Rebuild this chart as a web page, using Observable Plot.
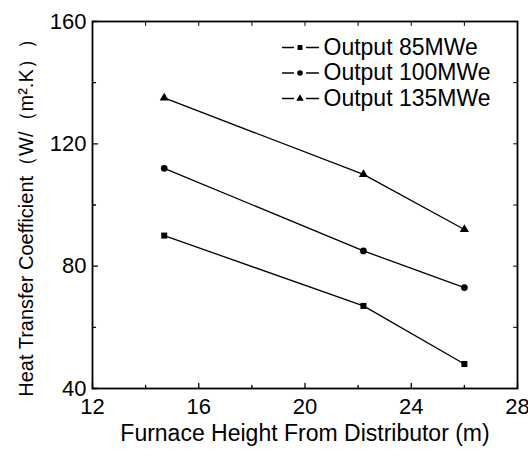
<!DOCTYPE html>
<html>
<head>
<meta charset="utf-8">
<script src="https://cdn.jsdelivr.net/npm/d3@7"></script>
<script src="https://cdn.jsdelivr.net/npm/@observablehq/plot@0.6"></script>
<style>
  html, body { margin: 0; padding: 0; background: #fff; }
  svg { display: block; }
</style>
</head>
<body>
<div id="chart"></div>
<script>
// ---- data ----
const heights = [14.7, 22.2, 26.0];
const seriesNames = ["Output 85MWe", "Output 100MWe", "Output 135MWe"];
const output85 = [90, 67, 48];
const output100 = [112, 85, 73];
const output135 = [135, 110, 92];
const seriesSymbols = ["square", "circle", "triangle"];
const xMajorTicks = [12, 16, 20, 24, 28];
const xMinorTicks = [14, 18, 22, 26];
const yMajorTicks = [40, 80, 120, 160];
const yMinorTicks = [60, 100, 140];
const xLabel = "Furnace Height From Distributor (m)";
const yLabel = "Heat Transfer Coefficient（W/（m².K））";

const seriesValues = [output85, output100, output135];
const rows = [];
seriesNames.forEach((name, s) => {
  heights.forEach((h, i) => rows.push({series: name, x: h, y: seriesValues[s][i]}));
});

const font = "Liberation Sans, Arial, sans-serif";
const lineShape = {draw(ctx, l) { ctx.moveTo(0, 0); ctx.lineTo(0, -l); }};
const centeredShape = {draw(ctx, l) { ctx.moveTo(0, l / 2); ctx.lineTo(0, -l / 2); }};
const legendShape = {draw(ctx, l) { ctx.moveTo(0, 0); ctx.lineTo(0, -11); ctx.moveTo(0, -24); ctx.lineTo(0, -l); }};

const tickMarks = [];
function inward(values, ch, anchor, rotate, len) {
  tickMarks.push(Plot.vector(values, {[ch]: d => d, frameAnchor: anchor, rotate, length: len,
    anchor: "start", shape: lineShape, stroke: "black", strokeWidth: 1.3}));
}
inward(xMajorTicks, "x", "bottom", 0, 5);
inward(xMinorTicks, "x", "bottom", 0, 3);
inward(yMajorTicks, "y", "left", 90, 5);
inward(yMinorTicks, "y", "left", 90, 3);
tickMarks.push(Plot.vector([...xMajorTicks, ...xMinorTicks], {x: d => d, frameAnchor: "top", rotate: 0, length: 4,
  anchor: "middle", shape: centeredShape, stroke: "black", strokeWidth: 1}));
tickMarks.push(Plot.vector([...yMajorTicks, ...yMinorTicks], {y: d => d, frameAnchor: "right", rotate: 90, length: 4,
  anchor: "middle", shape: centeredShape, stroke: "black", strokeWidth: 1}));

const legendMarks = [];
seriesNames.forEach((name, i) => {
  const dy = 26 + i * 25.5;
  legendMarks.push(Plot.vector([name], {frameAnchor: "top-left", dx: 190, dy, rotate: 90, length: 36,
    anchor: "start", shape: legendShape, stroke: "black", strokeWidth: 1.3}));
  legendMarks.push(Plot.dot([name], {frameAnchor: "top-left", dx: 207.5, dy, symbol: d => d, fill: "black", r: 2.8}));
  legendMarks.push(Plot.text([name], {frameAnchor: "top-left", dx: 231, dy, text: d => d, textAnchor: "start",
    lineAnchor: "middle", fontSize: 23, fill: "black"}));
});

const chart = Plot.plot({
  width: 528,
  height: 457,
  marginLeft: 92,
  marginRight: 11,
  marginTop: 21,
  marginBottom: 69,
  style: {fontFamily: font, background: "white", color: "black"},
  x: {domain: [12, 28]},
  y: {domain: [40, 160]},
  symbol: {domain: seriesNames, range: seriesSymbols},
  marks: [
    Plot.line(rows, {x: "x", y: "y", z: "series", stroke: "black", strokeWidth: 1.3}),
    Plot.dot(rows, {x: "x", y: "y", symbol: "series", fill: "black", r: 3.4}),
    Plot.axisX({ticks: xMajorTicks, tickSize: 0, tickPadding: 10, fontSize: 22, label: null}),
    Plot.axisY({ticks: yMajorTicks, tickSize: 0, tickPadding: 6, fontSize: 22, label: null}),
    ...tickMarks,
    Plot.frame({stroke: "black", strokeWidth: 1.8}),
    Plot.text([xLabel], {frameAnchor: "bottom", dy: 45, lineAnchor: "middle", textAnchor: "middle", fontSize: 23, fill: "black"}),
    Plot.text([yLabel], {frameAnchor: "left", dx: -66, dy: 8, rotate: -90, lineAnchor: "middle", textAnchor: "middle", fontSize: 20, fill: "black"}),
    ...legendMarks
  ]
});
document.getElementById("chart").append(chart);
</script>
</body>
</html>
